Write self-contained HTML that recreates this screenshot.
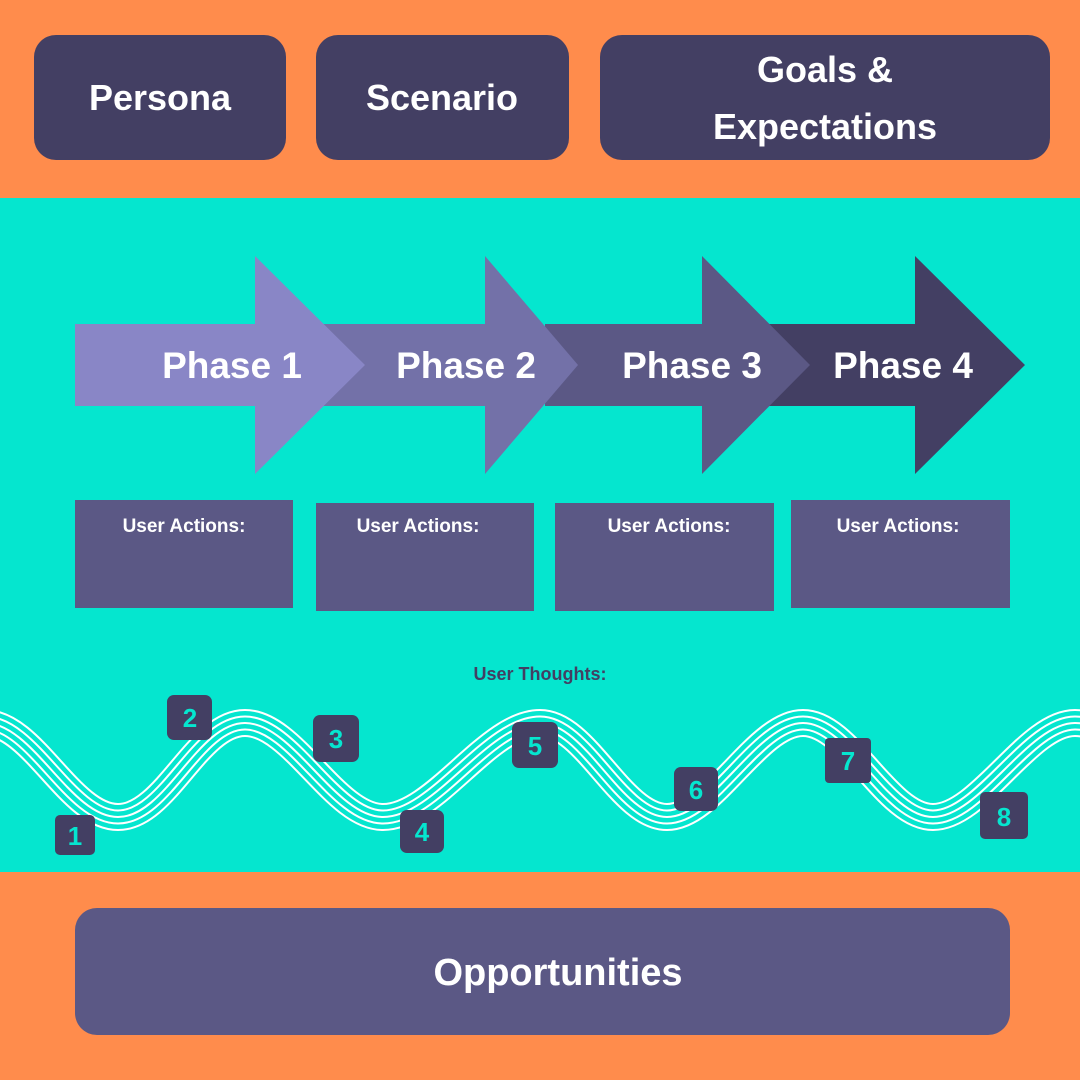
<!DOCTYPE html>
<html><head><meta charset="utf-8"><style>
body{margin:0;width:1080px;height:1080px;overflow:hidden;font-family:"Liberation Sans",sans-serif}
</style></head><body>
<svg width="1080" height="1080" viewBox="0 0 1080 1080" xmlns="http://www.w3.org/2000/svg" font-family="Liberation Sans, sans-serif" font-weight="bold">
<rect width="1080" height="1080" fill="#05e6cf"/>
<rect width="1080" height="198" fill="#ff8c4c"/>
<rect y="872" width="1080" height="208" fill="#ff8c4c"/>
<g fill="#433f63">
<rect x="34" y="35" width="252" height="125" rx="22"/>
<rect x="316" y="35" width="253" height="125" rx="22"/>
<rect x="600" y="35" width="450" height="125" rx="22"/>
</g>
<g fill="#fff" font-size="36" text-anchor="middle">
<text x="160" y="110">Persona</text>
<text x="442" y="110">Scenario</text>
<text x="825" y="82">Goals &amp;</text>
<text x="825" y="139">Expectations</text>
</g>
<polygon points="760,324 915,324 915,256 1025,365 915,474 915,406 760,406" fill="#433f63"/>
<polygon points="545,324 702,324 702,256 810,365 702,474 702,406 545,406" fill="#5b5885"/>
<polygon points="315,324 485,324 485,256 578,365 485,474 485,406 315,406" fill="#7371a8"/>
<polygon points="75,324 255,324 255,256 365,365 255,474 255,406 75,406" fill="#8986c6"/>
<g fill="#fff" font-size="37" text-anchor="middle">
<text x="232" y="378">Phase 1</text>
<text x="466" y="378">Phase 2</text>
<text x="692" y="378">Phase 3</text>
<text x="903" y="378">Phase 4</text>
</g>
<g fill="#5b5885">
<rect x="75" y="500" width="218" height="108"/>
<rect x="316" y="503" width="218" height="108"/>
<rect x="555" y="503" width="219" height="108"/>
<rect x="791" y="500" width="219" height="108"/>
</g>
<g fill="#fff" font-size="19" text-anchor="middle">
<text x="184" y="532">User Actions:</text>
<text x="418" y="532">User Actions:</text>
<text x="669" y="532">User Actions:</text>
<text x="898" y="532">User Actions:</text>
</g>
<text x="540" y="680" fill="#433f63" font-size="18" text-anchor="middle">User Thoughts:</text>
<defs>
<path id="w" d="M-15,723 C33,723 70,817 118,817 C166,817 197,723 245,723 C293,723 335,817 383,817 C435,817 488,723 540,723 C586,723 621,817 667,817 C713,817 757,723 803,723 C849,723 887,817 933,817 C980,817 1028,723 1075,723 C1100,723 1110,740 1120,760"/>
</defs>
<g fill="none">
<use href="#w" stroke="#fff" stroke-width="28"/>
<use href="#w" stroke="#05e6cf" stroke-width="24"/>
<use href="#w" stroke="#fff" stroke-width="15"/>
<use href="#w" stroke="#05e6cf" stroke-width="11"/>
<use href="#w" stroke="#fff" stroke-width="2"/>
</g>
<g fill="#433f63">
<rect x="55" y="815" width="40" height="40" rx="5"/>
<rect x="167" y="695" width="45" height="45" rx="7"/>
<rect x="313" y="715" width="46" height="47" rx="7"/>
<rect x="400" y="810" width="44" height="43" rx="7"/>
<rect x="512" y="722" width="46" height="46" rx="7"/>
<rect x="674" y="767" width="44" height="44" rx="7"/>
<rect x="825" y="738" width="46" height="45" rx="4"/>
<rect x="980" y="792" width="48" height="47" rx="5"/>
</g>
<g fill="#05e6cf" font-size="26" text-anchor="middle">
<text x="75" y="845">1</text>
<text x="190" y="727">2</text>
<text x="336" y="748">3</text>
<text x="422" y="841">4</text>
<text x="535" y="755">5</text>
<text x="696" y="799">6</text>
<text x="848" y="770">7</text>
<text x="1004" y="826">8</text>
</g>
<rect x="75" y="908" width="935" height="127" rx="22" fill="#5b5885"/>
<text x="558" y="985" fill="#fff" font-size="38" text-anchor="middle">Opportunities</text>
</svg>
</body></html>
